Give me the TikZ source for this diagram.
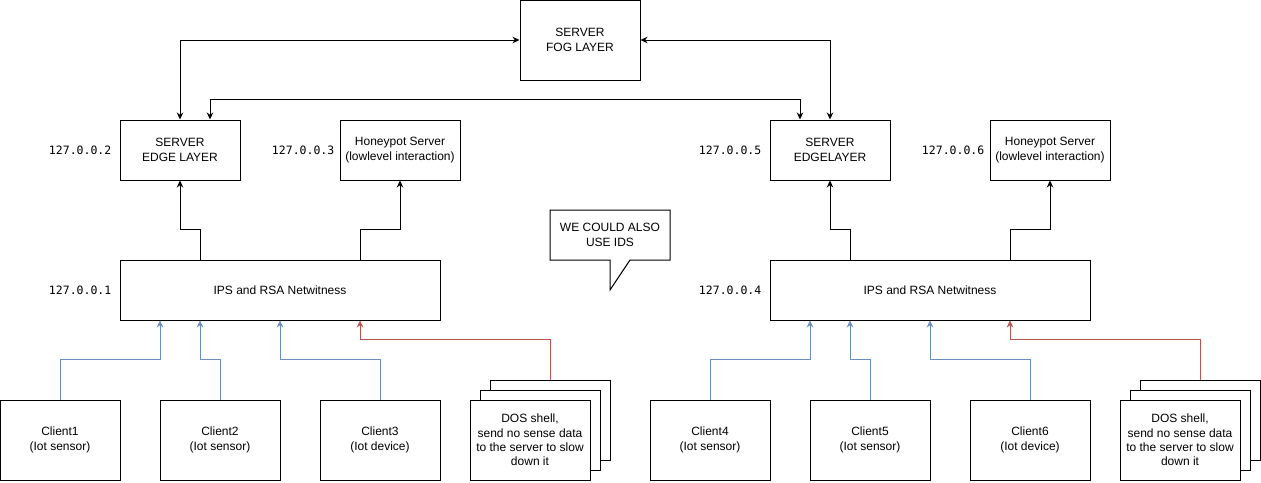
\documentclass[tikz,border=0pt]{standalone}
\usepackage{fontspec}
\setmainfont{Liberation Sans}
\newfontfamily\ipfont{DejaVu Sans Mono}
\usepackage{tikz}
\usetikzlibrary{arrows.meta,shadows}
\definecolor{azul}{HTML}{6C8EBF}
\definecolor{rojo}{HTML}{B85450}
\tikzstyle{box}   =[draw, rectangle, fill=white, line width=1pt,
                    inner sep=0pt, minimum width=120pt, minimum height=60pt,
                    align=center, font=\fontsize{12}{14.4}\selectfont]
\tikzstyle{client}=[box, minimum height=80pt]
\tikzstyle{dos}   =[box, minimum height=80pt,
                    general shadow={shadow xshift=20pt, shadow yshift=20pt,
                                    draw, fill=white, line width=1pt},
                    general shadow={shadow xshift=10pt, shadow yshift=10pt,
                                    draw, fill=white, line width=1pt}]
\tikzstyle{ip}    =[inner sep=8pt, font=\ipfont\fontsize{11.5}{14}\selectfont]
\tikzstyle{tip}   =[line width=1pt, -{Stealth[length=7pt,width=6.5pt]}]
\tikzstyle{both}  =[line width=1pt, {Stealth[length=7pt,width=6.5pt]}-{Stealth[length=7pt,width=6.5pt]}]
\tikzstyle{feed}  =[tip, azul]
\tikzstyle{attack}=[tip, rojo]

\begin{document}
\begin{tikzpicture}[x=1pt,y=-1pt]
    \useasboundingbox (0,0) rectangle (1261,482);

        \draw (580,40) node (fog) [box,minimum height=80pt] {SERVER\\FOG LAYER};

        \begin{scope}[]
            \draw (180,150) node (edgeA) [box,label={[ip]left:127.0.0.2}] {SERVER\\EDGE LAYER};
            \draw (400,150) node (potA) [box,label={[ip,inner sep=5pt]left:127.0.0.3}] {Honeypot Server\\(lowlevel interaction)};
            \draw (280,290) node (ipsA) [box,minimum width=320pt,label={[ip]left:127.0.0.1}] {IPS and RSA Netwitness};
            \draw (60,440) node (c1) [client] {Client1\\(Iot sensor)};
            \draw (220,440) node (c2) [client] {Client2\\(Iot sensor)};
            \draw (380,440) node (c3) [client] {Client3\\(Iot device)};
            \draw (530,440) node (dosA) [dos] {DOS shell,\\send no sense data\\to the server to slow\\down it};

            \draw [tip] ([xshift=-80pt]ipsA.north) -- ++(0,-30) -| (edgeA.south);
            \draw [tip] ([xshift=80pt]ipsA.north) -- ++(0,-30) -| (potA.south);
            \foreach \c/\s in {c1/-120,c2/-80,c3/0}
                \draw [feed] (\c.north) -- ++(0,-40) -| ([xshift=\s pt]ipsA.south);
            \draw [attack] ([xshift=20pt,yshift=20pt]dosA.north) -- ++(0,-40) -| ([xshift=80pt]ipsA.south);
        \end{scope}

        \begin{scope}[xshift=650pt]
            \draw (180,150) node (edgeB) [box,label={[ip]left:127.0.0.5}] {SERVER\\EDGELAYER};
            \draw (400,150) node (potB) [box,label={[ip,inner sep=5pt]left:127.0.0.6}] {Honeypot Server\\(lowlevel interaction)};
            \draw (280,290) node (ipsB) [box,minimum width=320pt,label={[ip]left:127.0.0.4}] {IPS and RSA Netwitness};
            \draw (60,440) node (c4) [client] {Client4\\(Iot sensor)};
            \draw (220,440) node (c5) [client] {Client5\\(Iot sensor)};
            \draw (380,440) node (c6) [client] {Client6\\(Iot device)};
            \draw (530,440) node (dosB) [dos] {DOS shell,\\send no sense data\\to the server to slow\\down it};

            \draw [tip] ([xshift=-80pt]ipsB.north) -- ++(0,-30) -| (edgeB.south);
            \draw [tip] ([xshift=80pt]ipsB.north) -- ++(0,-30) -| (potB.south);
            \foreach \c/\s in {c4/-120,c5/-80,c6/0}
                \draw [feed] (\c.north) -- ++(0,-40) -| ([xshift=\s pt]ipsB.south);
            \draw [attack] ([xshift=20pt,yshift=20pt]dosB.north) -- ++(0,-40) -| ([xshift=80pt]ipsB.south);
        \end{scope}

        % fog and edge links
        \draw [both] (fog.west) -| (edgeA.north);
        \draw [both] (fog.east) -| (edgeB.north);
        \draw [both] ([xshift=30pt]edgeA.north) -- ++(0,-20) -| ([xshift=-30pt]edgeB.north);

        % note
        \draw [line width=1pt] (550,210) -- (670,210) -- (670,260) -- (630,260) -- (610,290) -- (610,260) -- (550,260) -- cycle;
        \node (note) at (610,235) [align=center, font=\fontsize{12}{14.4}\selectfont] {WE COULD ALSO\\USE IDS};

    \end{tikzpicture}
\end{document}
